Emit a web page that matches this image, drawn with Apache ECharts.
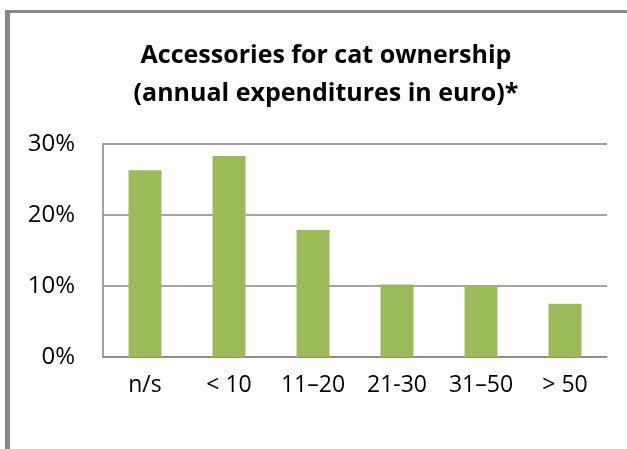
<!DOCTYPE html>
<html>
<head>
<meta charset="utf-8">
<script src="https://cdn.jsdelivr.net/npm/echarts@6/dist/echarts.min.js"></script>
<style>
html,body{margin:0;padding:0;background:#fff;}
#chart{width:627px;height:449px;}
</style>
</head>
<body>
<div id="chart"></div>
<script>
const categories = ["n/s", "< 10", "11\u201320", "21-30", "31\u201350", "> 50"];
const shares = [26.3, 28.3, 17.9, 10.2, 10.1, 7.5];
const yTicks = [0, 10, 20, 30];

const chart = echarts.init(document.getElementById('chart'), null, {renderer: 'canvas'});
const font = '"Open Sans", "Noto Sans", sans-serif';
chart.setOption({
  animation: false,
  backgroundColor: '#ffffff',
  title: {
    text: 'Accessories for cat ownership\n(annual expenditures in euro)*',
    left: 326,
    top: 37,
    padding: 0,
    textAlign: 'center',
    textStyle: {
      fontFamily: font,
      fontSize: 25,
      fontWeight: 'bold',
      color: '#000',
      lineHeight: 38
    }
  },
  graphic: [
    {type: 'rect', shape: {x: 5, y: 10, width: 622, height: 3}, style: {fill: '#888888'}, silent: true},
    {type: 'rect', shape: {x: 5, y: 10, width: 5, height: 439}, style: {fill: '#888888'}, silent: true}
  ],
  grid: {left: 103, right: 20, top: 144, bottom: 92, containLabel: false},
  xAxis: {
    type: 'category',
    data: categories,
    axisLine: {show: true, lineStyle: {color: '#868686', width: 1.5}},
    axisTick: {show: false},
    axisLabel: {color: '#000', fontFamily: font, fontSize: 23, margin: 17}
  },
  yAxis: {
    type: 'value',
    min: yTicks[0],
    max: yTicks[yTicks.length - 1],
    interval: 10,
    axisLine: {show: true, lineStyle: {color: '#868686', width: 1.5}},
    axisTick: {show: false},
    splitLine: {show: true, lineStyle: {color: '#868686', width: 1.5}},
    axisLabel: {color: '#000', fontFamily: font, fontSize: 24, margin: 28, formatter: v => v + '%'}
  },
  series: [{
    type: 'bar',
    data: shares,
    barWidth: 33,
    itemStyle: {color: '#9BBB59'}
  }]
});
</script>
</body>
</html>
